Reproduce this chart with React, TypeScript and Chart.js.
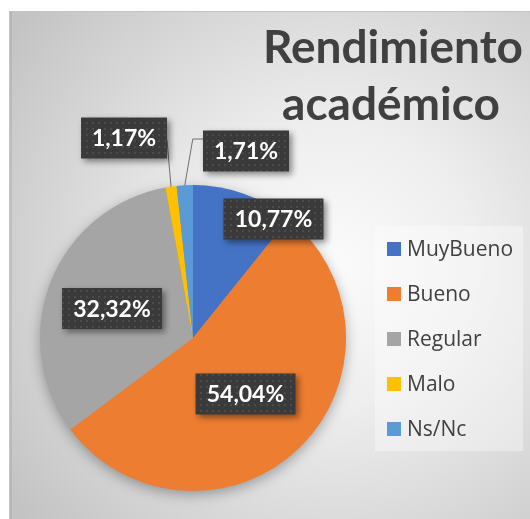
import React, { useEffect, useRef } from "react";
import { Chart, registerables } from "chart.js";

Chart.register(...registerables);

const categories = ["MuyBueno", "Bueno", "Regular", "Malo", "Ns/Nc"];
const values = [10.77, 54.04, 32.32, 1.17, 1.71];
const valueLabels = ["10,77%", "54,04%", "32,32%", "1,17%", "1,71%"];
const colors = ["#4472C4", "#ED7D31", "#A5A5A5", "#FFC000", "#5B9BD5"];
const titleLines = ["Rendimiento", "académico"];

// label box centres relative to the pie centre (px)
const labelOffsets: number[][] = [
  [80.5, -119],
  [52.5, 56],
  [-81, -29.5],
  [-69, -200],
  [53, -187],
];

const W = 530;
const H = 519;

function makePattern(ctx: CanvasRenderingContext2D) {
  const c = document.createElement("canvas");
  c.width = 6;
  c.height = 6;
  const p = c.getContext("2d")!;
  p.fillStyle = "#3a3a3a";
  p.fillRect(0, 0, 6, 6);
  p.fillStyle = "#4b4b4b";
  p.fillRect(2, 2, 2, 2);
  return ctx.createPattern(c, "repeat");
}

const decorPlugin = {
  id: "decor",
  beforeDraw(chart: any) {
    const ctx: CanvasRenderingContext2D = chart.ctx;
    ctx.save();
    // background
    const g = ctx.createRadialGradient(335, 265, 0, 335, 265, 400);
    g.addColorStop(0, "#fbfbfb");
    g.addColorStop(0.35, "#eeeeee");
    g.addColorStop(1, "#c3c3c3");
    ctx.fillStyle = g;
    ctx.fillRect(9, 11, W, H);
    ctx.strokeStyle = "#c4c4c4";
    ctx.lineWidth = 1;
    ctx.strokeRect(9.5, 11.5, W + 10, H + 10);
    ctx.fillStyle = "rgba(160,160,160,0.35)";
    ctx.fillRect(10, 12, 2, H);
    // title
    ctx.fillStyle = "#404040";
    ctx.font = "bold 46px Lato";
    ctx.textAlign = "center";
    ctx.textBaseline = "alphabetic";
    ctx.fillText(titleLines[0], 393, 63);
    ctx.fillText(titleLines[1], 391, 120);
    // legend
    ctx.fillStyle = "rgba(255,255,255,0.35)";
    ctx.fillRect(375, 226, 148, 225);
    ctx.font = "21px 'Open Sans'";
    ctx.textAlign = "left";
    ctx.textBaseline = "middle";
    categories.forEach((name, i) => {
      const y = 249 + i * 45;
      ctx.fillStyle = colors[i];
      ctx.fillRect(387, y - 7, 14, 14);
      ctx.fillStyle = "#404040";
      ctx.fillText(name, 407, y + 1);
    });
    ctx.restore();
  },
  beforeDatasetsDraw(chart: any) {
    const ctx: CanvasRenderingContext2D = chart.ctx;
    const arc = chart.getDatasetMeta(0).data[0];
    if (!arc) return;
    ctx.save();
    ctx.shadowColor = "rgba(0,0,0,0.35)";
    ctx.shadowBlur = 14;
    ctx.shadowOffsetY = 4;
    ctx.fillStyle = "#999";
    ctx.beginPath();
    ctx.arc(arc.x, arc.y, arc.outerRadius - 1, 0, Math.PI * 2);
    ctx.fill();
    ctx.restore();
  },
  afterDatasetsDraw(chart: any) {
    const ctx: CanvasRenderingContext2D = chart.ctx;
    const arcs = chart.getDatasetMeta(0).data;
    const pattern = makePattern(ctx);
    ctx.save();
    ctx.font = "bold 23px Lato";
    const boxes = arcs.map((a: any, i: number) => {
      const cx = a.x + labelOffsets[i][0];
      const cy = a.y + labelOffsets[i][1];
      const tw = ctx.measureText(valueLabels[i]).width;
      const bw = Math.round(tw + 22);
      const bh = 41;
      return { cx, cy, bw, bh, x: cx - bw / 2, y: cy - bh / 2 };
    });
    // leader lines for small slices
    ctx.strokeStyle = "#6f6f6f";
    ctx.lineWidth = 1;
    arcs.forEach((a: any, i: number) => {
      if (values[i] > 5) return;
      const mid = (a.startAngle + a.endAngle) / 2;
      const tx = a.x + Math.cos(mid) * a.outerRadius;
      const ty = a.y + Math.sin(mid) * a.outerRadius;
      const b = boxes[i];
      ctx.beginPath();
      if (b.cx < tx) {
        ctx.moveTo(b.x + b.bw, b.cy + 2);
        ctx.lineTo(tx, ty);
      } else {
        ctx.moveTo(b.x, b.cy - 12);
        ctx.lineTo(tx + 8, b.cy - 12);
        ctx.lineTo(tx, ty);
      }
      ctx.stroke();
    });
    // boxes
    boxes.forEach((b: any, i: number) => {
      ctx.save();
      ctx.shadowColor = "rgba(0,0,0,0.45)";
      ctx.shadowBlur = 6;
      ctx.shadowOffsetX = 3;
      ctx.shadowOffsetY = 3;
      ctx.fillStyle = pattern || "#3a3a3a";
      ctx.fillRect(b.x, b.y, b.bw, b.bh);
      ctx.restore();
      ctx.fillStyle = "#ffffff";
      ctx.textAlign = "center";
      ctx.textBaseline = "middle";
      ctx.fillText(valueLabels[i], b.cx, b.cy + 1);
    });
    ctx.restore();
  },
};

export default function App() {
  const ref = useRef<HTMLCanvasElement>(null);
  useEffect(() => {
    if (!ref.current) return;
    const chart = new Chart(ref.current, {
      type: "pie",
      data: {
        labels: categories,
        datasets: [
          {
            data: values,
            backgroundColor: colors,
            borderWidth: 0,
            hoverOffset: 0,
            offset: 0,
          } as any,
        ],
      },
      options: {
        animation: false,
        responsive: false,
        devicePixelRatio: 1,
        layout: { padding: { left: 40, right: 184, top: 185, bottom: 28 } },
        plugins: {
          legend: { display: false },
          title: { display: false },
          tooltip: { enabled: false },
        },
      } as any,
      plugins: [decorPlugin],
    });
    return () => chart.destroy();
  }, []);
  return (
    <div style={{ position: "absolute", left: 0, top: 0, width: W, height: H, background: "#fff" }}>
      <canvas ref={ref} width={W} height={H} style={{ width: W, height: H, display: "block" }} />
    </div>
  );
}
